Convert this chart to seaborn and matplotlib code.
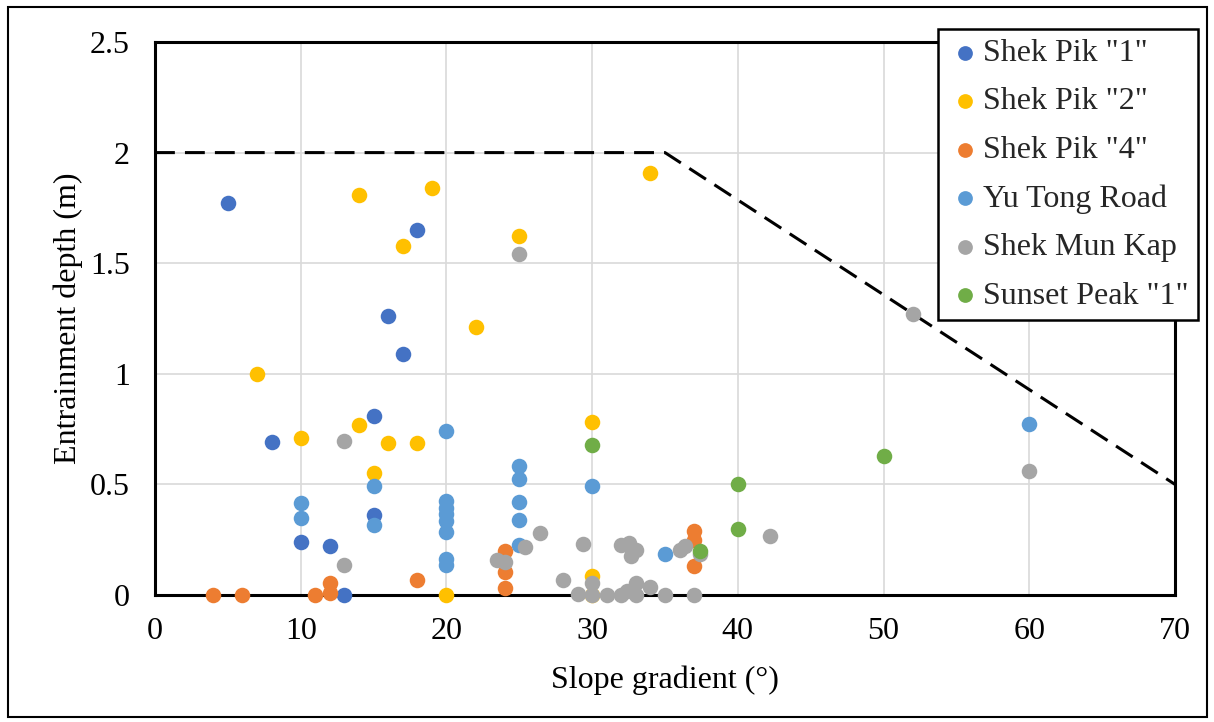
import matplotlib
matplotlib.use("Agg")
import matplotlib.pyplot as plt
import matplotlib.patches as mpatches
import numpy as np
import pandas as pd
import seaborn as sns

# ---- data: slope gradient (deg) vs entrainment depth (m) per site ----
site_names = ['Shek Pik "1"', 'Shek Pik "2"', 'Shek Pik "4"',
              'Yu Tong Road', 'Shek Mun Kap', 'Sunset Peak "1"']

shek_pik_1_x = [5, 18, 16, 17, 15, 8, 15, 10, 12, 13]
shek_pik_1_y = [1.77, 1.65, 1.26, 1.09, 0.81, 0.69, 0.36, 0.24, 0.22, 0.0]

shek_pik_2_x = [14, 19, 17, 22, 7, 10, 14, 16, 18, 15, 20, 34, 25, 30, 30, 30]
shek_pik_2_y = [1.81, 1.84, 1.58, 1.21, 1.0, 0.71, 0.77, 0.685, 0.685, 0.55,
                0.0, 1.91, 1.625, 0.78, 0.085, 0.0]

shek_pik_4_x = [4, 6, 11, 12, 12, 18, 24, 24, 24, 37, 37, 37]
shek_pik_4_y = [0.0, 0.0, 0.0, 0.055, 0.01, 0.07, 0.2, 0.105, 0.03, 0.29, 0.25, 0.13]

yu_tong_x = [10, 10, 15, 15, 20, 20, 20, 20, 20, 20, 20, 20,
             25, 25, 25, 25, 25, 30, 35, 60]
yu_tong_y = [0.415, 0.35, 0.495, 0.315, 0.74, 0.425, 0.395, 0.365, 0.335, 0.285,
             0.165, 0.135, 0.585, 0.525, 0.42, 0.34, 0.225, 0.495, 0.185, 0.775]

shek_mun_kap_x = [13, 13, 25, 23.5, 24, 25.4, 26.4, 28, 29, 29.4, 30, 30, 31, 32,
                  32, 32.4, 32.5, 32.7, 33, 33, 33, 34, 35, 36, 36.4, 37, 37.4,
                  42.2, 52, 60]
shek_mun_kap_y = [0.695, 0.135, 1.54, 0.16, 0.15, 0.215, 0.28, 0.07, 0.005, 0.23,
                  0.055, 0.0, 0.0, 0.0, 0.225, 0.02, 0.235, 0.175, 0.205, 0.055,
                  0.0, 0.035, 0.0, 0.205, 0.22, 0.0, 0.185, 0.265, 1.27, 0.56]

sunset_peak_x = [30, 40, 40, 37.4, 50]
sunset_peak_y = [0.68, 0.5, 0.3, 0.2, 0.63]

# upper-bound envelope (dashed)
envelope_x = [0, 35, 70]
envelope_y = [2.0, 2.0, 0.5]

x_ticks = [0, 10, 20, 30, 40, 50, 60, 70]
y_ticks = [0, 0.5, 1.0, 1.5, 2.0, 2.5]
y_tick_labels = ["0", "0.5", "1", "1.5", "2", "2.5"]

site_colors = ["#4472C4", "#FFC000", "#ED7D31", "#5B9BD5", "#A5A5A5", "#70AD47"]

series = [(shek_pik_1_x, shek_pik_1_y), (shek_pik_2_x, shek_pik_2_y),
          (shek_pik_4_x, shek_pik_4_y), (yu_tong_x, yu_tong_y),
          (shek_mun_kap_x, shek_mun_kap_y), (sunset_peak_x, sunset_peak_y)]

frames = []
for name, (xs, ys) in zip(site_names, series):
    frames.append(pd.DataFrame({"gradient": xs, "depth": ys, "site": name}))
df = pd.concat(frames, ignore_index=True)

# ---- styling ----
FS = 23
sns.set_theme(style="white")
plt.rcParams["font.family"] = ["Liberation Serif", "DejaVu Serif"]
plt.rcParams["font.size"] = FS

fig = plt.figure(figsize=(12.14, 7.22), dpi=100)
ax = fig.add_axes([155 / 1214, 1 - 595 / 722, (1175 - 155) / 1214, (595 - 42) / 722])

ax.plot(envelope_x, envelope_y, color="black", lw=2.2, dashes=(6.5, 3.3), zorder=2)

palette = dict(zip(site_names, site_colors))
for name in site_names:
    sub = df[df["site"] == name]
    sns.scatterplot(data=sub, x="gradient", y="depth", color=palette[name],
                    s=125, linewidth=0, ax=ax, label=name,
                    clip_on=False, zorder=4)

ax.set_xlim(0, 70)
ax.set_ylim(0, 2.5)
ax.set_xticks(x_ticks)
ax.set_xticklabels([str(t) for t in x_ticks])
ax.set_yticks(y_ticks)
ax.set_yticklabels(y_tick_labels)
ax.tick_params(axis="both", length=0, labelsize=FS, colors="black")
ax.tick_params(axis="y", pad=18)
ax.tick_params(axis="x", pad=16)

ax.grid(True, color="#D9D9D9", lw=1.2, zorder=0)
ax.set_axisbelow(True)
for sp in ax.spines.values():
    sp.set_visible(True)
    sp.set_color("black")
    sp.set_linewidth(2.2)
    sp.set_zorder(3)

ax.set_xlabel("Slope gradient (°)", fontsize=FS, color="black", labelpad=14)
ax.set_ylabel("Entrainment depth (m)", fontsize=FS, color="black", labelpad=5)

handles, labels = ax.get_legend_handles_labels()
leg = ax.legend(handles, labels, loc="upper left",
                bbox_to_anchor=(938 / 1214, 1 - 29 / 722),
                bbox_transform=fig.transFigure,
                fontsize=FS, frameon=True, fancybox=False,
                edgecolor="black", framealpha=1, borderpad=0.3,
                labelspacing=0.60, handletextpad=0.0, handlelength=1.1,
                markerscale=0.95, borderaxespad=0)
leg.get_frame().set_linewidth(1.8)
leg.set_zorder(10)

# outer chart border
fig.patches.append(mpatches.Rectangle((8 / 1214, 5 / 722), 1199 / 1214, 710 / 722,
                                      transform=fig.transFigure, fill=False,
                                      edgecolor="black", lw=1.5))

fig.savefig("out.png", dpi=100)
